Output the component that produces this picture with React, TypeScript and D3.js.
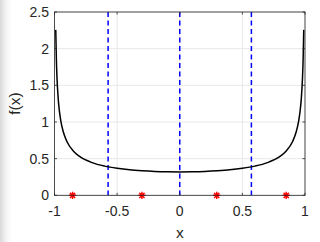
import React from "react";
import * as d3 from "d3";

const curveX = [-0.99, -0.985, -0.98, -0.97, -0.96, -0.95, -0.93, -0.9, -0.85, -0.8, -0.7, -0.6, -0.5, -0.4, -0.3, -0.2, -0.1, 0,
  0.1, 0.2, 0.3, 0.4, 0.5, 0.6, 0.7, 0.8, 0.85, 0.9, 0.93, 0.95, 0.96, 0.97, 0.98, 0.985, 0.99];
const curveY = [2.256, 1.845, 1.6, 1.309, 1.137, 1.019, 0.866, 0.73, 0.604, 0.531, 0.446, 0.398, 0.368, 0.347, 0.334, 0.325, 0.32, 0.318,
  0.32, 0.325, 0.334, 0.347, 0.368, 0.398, 0.446, 0.531, 0.604, 0.73, 0.866, 1.019, 1.137, 1.309, 1.6, 1.845, 2.256];
const dashedX = [-0.572, 0, 0.572];
const starX = [-0.856, -0.302, 0.295, 0.85];
const xTicks = [-1, -0.5, 0, 0.5, 1];
const yTicks = [0, 0.5, 1, 1.5, 2, 2.5];

const W = 320, H = 242;
const left = 54.5, right = 305, top = 12, bottom = 195.3;

export default function App() {
  const x = d3.scaleLinear().domain([-1, 1]).range([left, right]);
  const y = d3.scaleLinear().domain([0, 2.5]).range([bottom, top]);
  const pts = curveX.map((v, i) => [v, curveY[i]] as [number, number]);
  const line = d3.line<[number, number]>().x(d => x(d[0])).y(d => y(d[1])).curve(d3.curveMonotoneX);
  const axisColor = "#262626";
  const font = "'Liberation Sans', Arial, sans-serif";
  const r = 3.6;
  return (
    <svg width={W} height={H} style={{ position: "absolute", left: 0, top: 0, background: "#fff" }}>
      <defs>
        <linearGradient id="shade" x1="0" x2="1" y1="0" y2="0">
          <stop offset="0" stopColor="#d8d8d8" />
          <stop offset="1" stopColor="#ffffff" stopOpacity="0" />
        </linearGradient>
      </defs>
      <rect x={0} y={0} width={14} height={H} fill="url(#shade)" />
      {xTicks.map(t => (
        <line key={"gx" + t} x1={x(t)} x2={x(t)} y1={top} y2={bottom} stroke="#e8e8e8" strokeWidth={1} />
      ))}
      {yTicks.map(t => (
        <line key={"gy" + t} x1={left} x2={right} y1={y(t)} y2={y(t)} stroke="#e8e8e8" strokeWidth={1} />
      ))}
      {dashedX.map(v => (
        <line key={"d" + v} x1={x(v)} x2={x(v)} y1={top} y2={bottom} stroke="#0000ff" strokeWidth={1.5} strokeDasharray="5,3.5" />
      ))}
      <path d={line(pts) || ""} fill="none" stroke="#000" strokeWidth={1.5} />
      {starX.map(v => {
        const cx = x(v), cy = y(0);
        const d = `M${cx - r},${cy}L${cx + r},${cy}M${cx},${cy - r}L${cx},${cy + r}` +
          `M${cx - r * 0.72},${cy - r * 0.72}L${cx + r * 0.72},${cy + r * 0.72}M${cx - r * 0.72},${cy + r * 0.72}L${cx + r * 0.72},${cy - r * 0.72}`;
        return <path key={"s" + v} d={d} stroke="#ff0000" strokeWidth={1.4} fill="none" />;
      })}
      <rect x={left} y={top} width={right - left} height={bottom - top} fill="none" stroke={axisColor} strokeWidth={0.8} />
      {xTicks.map(t => (
        <g key={"tx" + t}>
          <line x1={x(t)} x2={x(t)} y1={bottom} y2={bottom - 2.5} stroke={axisColor} strokeWidth={0.8} />
          <line x1={x(t)} x2={x(t)} y1={top} y2={top + 2.5} stroke={axisColor} strokeWidth={0.8} />
          <text x={x(t)} y={216} fontSize={14} fontFamily={font} fill={axisColor} textAnchor="middle">{t}</text>
        </g>
      ))}
      {yTicks.map(t => (
        <g key={"ty" + t}>
          <line x1={left} x2={left + 2.5} y1={y(t)} y2={y(t)} stroke={axisColor} strokeWidth={0.8} />
          <line x1={right} x2={right - 2.5} y1={y(t)} y2={y(t)} stroke={axisColor} strokeWidth={0.8} />
          <text x={49} y={y(t) + 5} fontSize={14} fontFamily={font} fill={axisColor} textAnchor="end">{t}</text>
        </g>
      ))}
      <text x={(left + right) / 2} y={238} fontSize={15.5} fontFamily={font} fill={axisColor} textAnchor="middle">x</text>
      <text transform={`translate(20,${(top + bottom) / 2}) rotate(-90)`} fontSize={15.5} fontFamily={font} fill={axisColor} textAnchor="middle">f(x)</text>
    </svg>
  );
}
